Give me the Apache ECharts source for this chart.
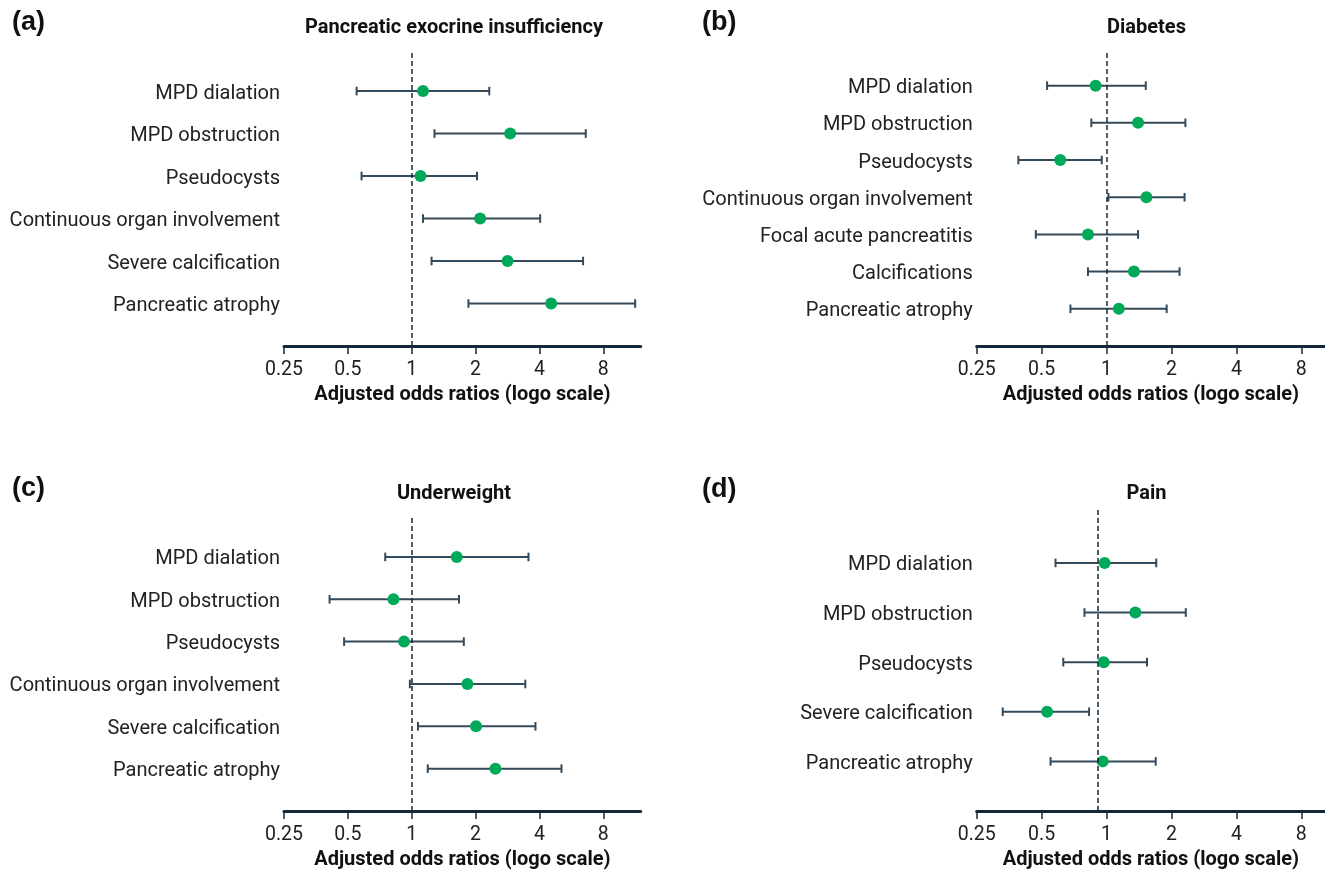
<!DOCTYPE html>
<html>
<head>
<meta charset="utf-8">
<script src="https://cdn.jsdelivr.net/npm/echarts@6/dist/echarts.min.js"></script>
<style>
html,body{margin:0;padding:0;background:#fff;}
#chart{width:1325px;height:871px;}
</style>
</head>
<body>
<div id="chart"></div>
<script>
// ---------- Data ----------
const tickValues = [0.25, 0.5, 1, 2, 4, 8];

const catsA = ['MPD dialation', 'MPD obstruction', 'Pseudocysts', 'Continuous organ involvement', 'Severe calcification', 'Pancreatic atrophy'];
const orA   = [1.13, 2.91, 1.10, 2.10, 2.83, 4.54];
const loA   = [0.55, 1.28, 0.58, 1.13, 1.24, 1.85];
const hiA   = [2.32, 6.61, 2.03, 4.03, 6.42, 11.3];

const catsB = ['MPD dialation', 'MPD obstruction', 'Pseudocysts', 'Continuous organ involvement', 'Focal acute pancreatitis', 'Calcifications', 'Pancreatic atrophy'];
const orB   = [0.89, 1.40, 0.61, 1.53, 0.82, 1.34, 1.14];
const loB   = [0.53, 0.85, 0.39, 1.02, 0.47, 0.82, 0.68];
const hiB   = [1.52, 2.32, 0.95, 2.30, 1.40, 2.18, 1.90];

const catsC = ['MPD dialation', 'MPD obstruction', 'Pseudocysts', 'Continuous organ involvement', 'Severe calcification', 'Pancreatic atrophy'];
const orC   = [1.63, 0.82, 0.92, 1.83, 2.01, 2.48];
const loC   = [0.75, 0.41, 0.48, 0.98, 1.07, 1.19];
const hiC   = [3.55, 1.67, 1.76, 3.43, 3.83, 5.08];

const catsD = ['MPD dialation', 'MPD obstruction', 'Pseudocysts', 'Severe calcification', 'Pancreatic atrophy'];
const orD   = [0.98, 1.36, 0.97, 0.53, 0.96];
const loD   = [0.58, 0.79, 0.63, 0.33, 0.55];
const hiD   = [1.70, 2.33, 1.54, 0.83, 1.69];

const refLines = [1, 1, 1, 0.91];
const panelTitles = ['Pancreatic exocrine insufficiency', 'Diabetes', 'Underweight', 'Pain'];
const panelLetters = ['(a)', '(b)', '(c)', '(d)'];
const axisTitle = 'Adjusted odds ratios (logo scale)';

// ---------- Styles / layout ----------
const GREEN = '#00a85a';
const BAR = '#34495a';
const AXIS = '#14283a';
const TXT = '#222222';
const FONT = 'Roboto';

const layouts = [
  {left: 284,   top: 50.7,  width: 356.7, height: 295.3, xmax: 12,   ymax: 6.95},
  {left: 976.7, top: 50.7,  width: 354,   height: 295.3, xmax: 10.3, ymax: 7.94},
  {left: 284,   top: 516.7, width: 356.7, height: 295.6, xmax: 12,   ymax: 6.95},
  {left: 976.7, top: 509.3, width: 354,   height: 303,   xmax: 10.3, ymax: 6.08}
];
const letterPos = [[12, 9], [702, 9], [12, 475], [702, 476]];
const titlePos  = [[454, 18], [1146.5, 18], [454, 484], [1146.5, 484]];

const panels = [
  {cats: catsA, or: orA, lo: loA, hi: hiA},
  {cats: catsB, or: orB, lo: loB, hi: hiB},
  {cats: catsC, or: orC, lo: loC, hi: hiC},
  {cats: catsD, or: orD, lo: loD, hi: hiD}
];

function renderErr(params, api) {
  const lo = api.value(0), hi = api.value(1), y = api.value(2);
  const p1 = api.coord([lo, y]);
  const p2 = api.coord([hi, y]);
  const h = 4.3;
  const st = {stroke: BAR, lineWidth: 2};
  return {
    type: 'group',
    children: [
      {type: 'line', shape: {x1: p1[0], y1: p1[1], x2: p2[0], y2: p2[1]}, style: st},
      {type: 'line', shape: {x1: p1[0], y1: p1[1] - h, x2: p1[0], y2: p1[1] + h}, style: st},
      {type: 'line', shape: {x1: p2[0], y1: p2[1] - h, x2: p2[0], y2: p2[1] + h}, style: st}
    ]
  };
}

const grid = [], xAxis = [], yAxis = [], series = [], title = [];

panels.forEach((p, i) => {
  const L = layouts[i];
  const n = p.cats.length;
  grid.push({left: L.left, top: L.top, width: L.width, height: L.height, containLabel: false});
  xAxis.push({
    type: 'log', logBase: 2, gridIndex: i, min: 0.25, max: L.xmax,
    axisLine: {show: true, lineStyle: {color: AXIS, width: 3}},
    axisTick: {show: true, length: 8, lineStyle: {color: AXIS, width: 1.5}, customValues: tickValues},
    axisLabel: {show: true, customValues: tickValues, margin: 14, color: TXT, fontFamily: FONT, fontSize: 19.5,
      formatter: v => String(+(+v).toPrecision(3))},
    splitLine: {show: false},
    name: axisTitle, nameLocation: 'middle', nameGap: 39,
    nameTextStyle: {fontFamily: FONT, fontWeight: 'bold', fontSize: 20, color: '#111'}
  });
  const yVals = p.cats.map((c, k) => n - k);
  yAxis.push({
    type: 'value', gridIndex: i, min: 0, max: L.ymax,
    axisLine: {show: false}, axisTick: {show: false}, splitLine: {show: false},
    axisLabel: {show: true, customValues: yVals, margin: 4,
      rich: {c: {color: TXT, fontFamily: FONT, fontSize: 20, padding: [5, 0, 0, 0]}},
      formatter: v => { const k = n - Math.round(v); return '{c|' + (p.cats[k] || '') + '}'; }}
  });
  series.push({
    type: 'custom', xAxisIndex: i, yAxisIndex: i,
    renderItem: renderErr,
    encode: {x: [0, 1], y: 2},
    data: p.cats.map((c, k) => [p.lo[k], p.hi[k], n - k]),
    z: 2, silent: true
  });
  series.push({
    type: 'scatter', xAxisIndex: i, yAxisIndex: i,
    symbol: 'circle', symbolSize: 12,
    itemStyle: {color: GREEN, opacity: 1},
    data: p.cats.map((c, k) => [p.or[k], n - k]),
    z: 3, silent: true,
    markLine: {
      silent: true, symbol: 'none', animation: false,
      label: {show: false},
      lineStyle: {type: [5, 3], color: AXIS, width: 1.5},
      data: [{xAxis: refLines[i]}]
    }
  });
  title.push({
    text: panelLetters[i], left: letterPos[i][0], top: letterPos[i][1],
    textStyle: {fontFamily: 'Liberation Sans', fontWeight: 'bold', fontSize: 27, color: '#111'}, padding: 0
  });
  title.push({
    text: panelTitles[i], left: titlePos[i][0], top: titlePos[i][1], textAlign: 'center',
    textStyle: {fontFamily: FONT, fontWeight: 'bold', fontSize: 20, color: '#111'}, padding: 0
  });
});

const chart = echarts.init(document.getElementById('chart'), null, {renderer: 'canvas'});
chart.setOption({
  animation: false,
  backgroundColor: '#ffffff',
  title, grid, xAxis, yAxis, series
});
</script>
</body>
</html>
